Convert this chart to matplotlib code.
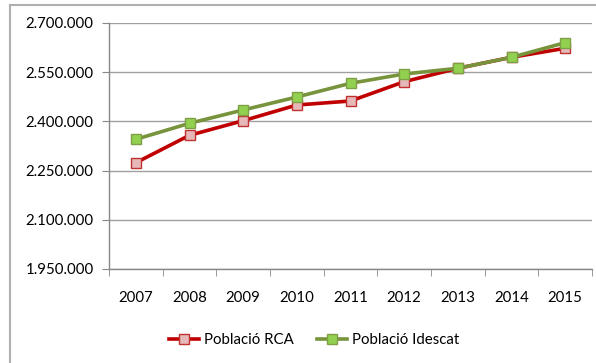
import matplotlib.pyplot as plt
from matplotlib.lines import Line2D
from matplotlib.ticker import FuncFormatter

# Població per any (RCA vs Idescat)
anys = ["2007", "2008", "2009", "2010", "2011", "2012", "2013", "2014", "2015"]
poblacio_rca = [2274000, 2357600, 2402100, 2450000, 2462200, 2521000, 2561900, 2595400, 2622900]
poblacio_idescat = [2345400, 2394200, 2434800, 2474400, 2516200, 2544500, 2562000, 2595400, 2640000]
y_ticks = [1950000, 2100000, 2250000, 2400000, 2550000, 2700000]

plt.rcParams['font.family'] = ['Lato', 'DejaVu Sans']
FS = 10.8

fig = plt.figure(figsize=(5.96, 3.63), dpi=100)
ax = fig.add_axes([109 / 596, 1 - 269 / 363, (592 - 109) / 596, (269 - 23) / 363])

x = list(range(len(anys)))
ax.plot(x, poblacio_rca, color="#C00000", lw=2.6, marker="s", ms=7,
        mfc="#E6B9B8", mec="#C0312F", mew=1.0, zorder=3, label="Població RCA")
ax.plot(x, poblacio_idescat, color="#77933C", lw=2.6, marker="s", ms=7,
        mfc="#92D050", mec="#7F9F47", mew=1.0, zorder=4, label="Població Idescat")

ax.set_xlim(-0.5, len(anys) - 0.5)
ax.set_ylim(y_ticks[0], y_ticks[-1])
ax.set_yticks(y_ticks)
ax.yaxis.set_major_formatter(FuncFormatter(lambda v, p: f"{int(v):,}".replace(",", ".")))
ax.set_xticks(x)
ax.set_xticklabels(anys)
ax.set_xticks([i - 0.5 for i in range(len(anys) + 1)], minor=True)
ax.tick_params(axis="x", which="major", length=0, pad=16, labelsize=FS, colors="#000000")
ax.tick_params(axis="x", which="minor", length=5, color="#888888", direction="out")
ax.tick_params(axis="y", length=5, color="#888888", pad=6, labelsize=FS)

ax.grid(axis="y", color="#A0A0A0", lw=1.0)
ax.set_axisbelow(True)
for s in ["top", "right"]:
    ax.spines[s].set_visible(False)
for s in ["left", "bottom"]:
    ax.spines[s].set_color("#888888")
    ax.spines[s].set_linewidth(1.0)

handles = [
    Line2D([], [], color="#C00000", lw=2.6, marker="s", ms=7, mfc="#E6B9B8", mec="#C0312F"),
    Line2D([], [], color="#77933C", lw=2.6, marker="s", ms=7, mfc="#92D050", mec="#7F9F47"),
]
fig.legend(handles, ["Població RCA", "Població Idescat"], loc="center",
           bbox_to_anchor=(314 / 596, 1 - 340 / 363), ncol=2, frameon=False,
           fontsize=FS, handlelength=2.0, handletextpad=0.3, columnspacing=1.6)

# marc del gràfic
fig.add_artist(Line2D([10 / 596, 10 / 596], [0, 1 - 5 / 363], color="#B0B0B0", lw=1.5,
                      transform=fig.transFigure))
fig.add_artist(Line2D([10 / 596, 1], [1 - 5 / 363, 1 - 5 / 363], color="#B0B0B0", lw=1.5,
                      transform=fig.transFigure))

fig.savefig("out.png", dpi=100)
